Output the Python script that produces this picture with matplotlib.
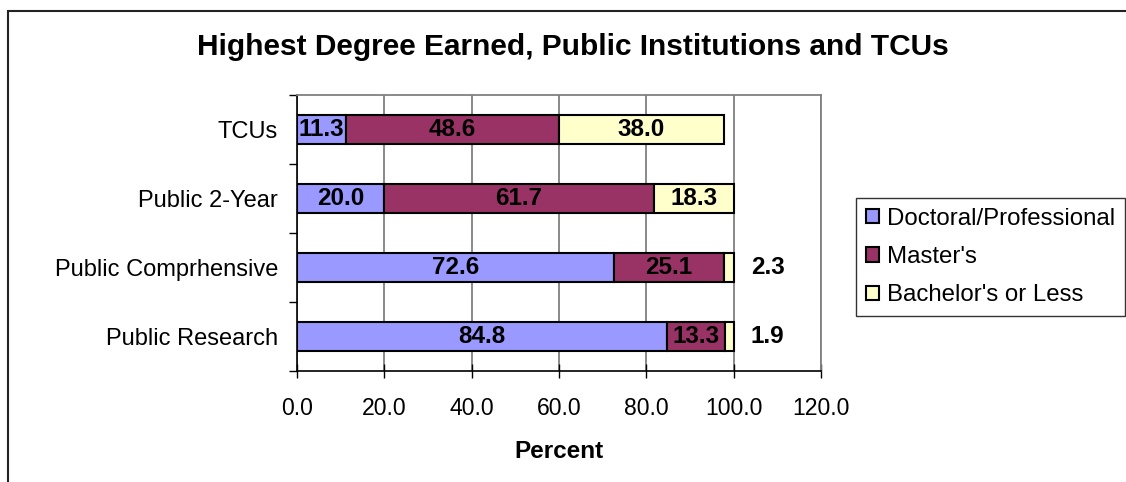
import matplotlib
matplotlib.use("Agg")
import matplotlib.pyplot as plt
from matplotlib.patches import Rectangle
import numpy as np

plt.rcParams['font.family'] = ['Liberation Sans', 'DejaVu Sans']

categories = ["Public Research", "Public Comprhensive", "Public 2-Year", "TCUs"]
series_names = ["Doctoral/Professional", "Master's", "Bachelor's or Less"]
doctoral = [84.8, 72.6, 20.0, 11.3]
masters = [13.3, 25.1, 61.7, 48.6]
bachelors = [1.9, 2.3, 18.3, 38.0]
colors = ["#9999FF", "#993366", "#FFFFCC"]
xticks = [0, 20, 40, 60, 80, 100, 120]

W, H = 1126, 482
fig = plt.figure(figsize=(W / 100, H / 100), dpi=100)

# outer chart frame
fig.patches.append(Rectangle((8 / W, -0.1), 1.2, 1 - 11 / H + 0.1,
                             transform=fig.transFigure, fill=False,
                             edgecolor="#222222", linewidth=1.5))

ax = fig.add_axes([297 / W, 1 - 371 / H, 524 / W, 276 / H])
y = np.arange(len(categories))
left = np.zeros(len(categories))
bar_h = 0.41
for vals, name, col in zip([doctoral, masters, bachelors], series_names, colors):
    vals = np.array(vals)
    ax.barh(y, vals, left=left, height=bar_h, color=col,
            edgecolor="black", linewidth=1.5, label=name, zorder=3)
    for yi, l, v in zip(y, left, vals):
        if v >= 5:
            ax.text(l + v / 2, yi, f"{v:.1f}", ha="center", va="center",
                    fontsize=17.5, fontweight="bold", zorder=4)
        else:
            ax.annotate(f"{v:.1f}", xy=(l + v, yi), xytext=(24.5, 0),
                        textcoords="offset points", ha="center", va="center",
                        fontsize=17.5, fontweight="bold", zorder=4)
    left = left + vals

ax.set_xlim(0, 120)
ax.set_ylim(-0.5, len(categories) - 0.5)
ax.set_xticks(xticks)
ax.set_xticklabels([f"{t:.1f}" for t in xticks], fontsize=16.6)
ax.set_yticks(y)
ax.set_yticklabels(categories, fontsize=17)
ax.tick_params(axis="y", length=0, pad=13.5)
ax.set_yticks(np.arange(-0.5, len(categories), 1), minor=True)
ax.tick_params(axis="y", which="minor", length=6, direction="out", width=1)
ax.tick_params(axis="x", direction="inout", length=10, width=1, pad=14)
ax.xaxis.grid(True, color="#808080", linewidth=1.3, zorder=0)
ax.set_axisbelow(True)
for s in ["top", "right"]:
    ax.spines[s].set_color("#808080")
    ax.spines[s].set_linewidth(1.3)
for s in ["left", "bottom"]:
    ax.spines[s].set_color("black")
    ax.spines[s].set_linewidth(1.2)
ax.set_xlabel("Percent", fontsize=17.5, fontweight="bold", labelpad=14)

fig.text(573 / W, 1 - 47 / H, "Highest Degree Earned, Public Institutions and TCUs",
         ha="center", va="center", fontsize=21.5, fontweight="bold")

leg = ax.legend(loc="center left", bbox_to_anchor=(856 / W, 1 - 257 / H),
                bbox_transform=fig.transFigure, fontsize=17.3, frameon=True,
                fancybox=False, edgecolor="black", handlelength=0.55,
                handleheight=0.55, handletextpad=0.35, labelspacing=0.68,
                borderpad=0.4, borderaxespad=0)
leg.get_frame().set_linewidth(1.0)

fig.savefig("out.png", dpi=100)
